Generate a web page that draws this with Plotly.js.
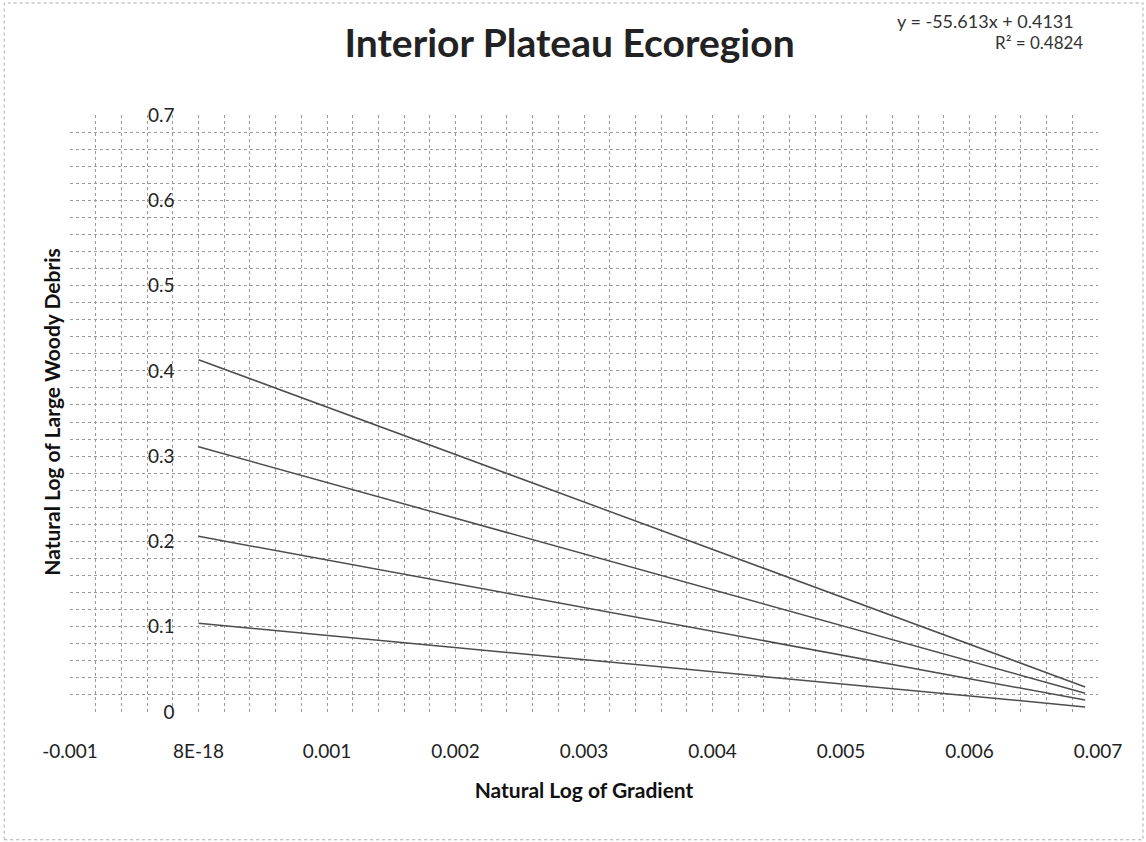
<!DOCTYPE html>
<html>
<head>
<meta charset="utf-8">
<script src="https://cdn.plot.ly/plotly-3.0.1.min.js"></script>
<style>html,body{margin:0;padding:0;background:#fff;}#chart{width:1146px;height:842px;}</style>
</head>
<body>
<div id="chart"></div>
<script>
// Data
const lineX = [0, 0.0069];
const line1Y = [0.4131, 0.0294];
const line2Y = [0.311, 0.022];
const line3Y = [0.206, 0.014];
const line4Y = [0.104, 0.006];
const xTickVals = [-0.001, 0, 0.001, 0.002, 0.003, 0.004, 0.005, 0.006, 0.007];
const xTickText = ["-0.001", "8E-18", "0.001", "0.002", "0.003", "0.004", "0.005", "0.006", "0.007"];
const yTickVals = [0, 0.1, 0.2, 0.3, 0.4, 0.5, 0.6, 0.7];
const yTickText = ["0", "0.1", "0.2", "0.3", "0.4", "0.5", "0.6", "0.7"];
const titleText = "Interior Plateau Ecoregion";
const xTitle = "Natural Log of Gradient";
const yTitle = "Natural Log of Large Woody Debris";
const equationText = "y = -55.613x + 0.4131";
const r2Text = "R² = 0.4824";

const FONT = "Lato, 'Open Sans', sans-serif";
const lineStyle = {color: "#4d4d4d", width: 1.5};
const series = [line1Y, line2Y, line3Y, line4Y];
const traces = series.map(ys => ({
  x: lineX, y: ys, type: "scatter", mode: "lines",
  line: lineStyle, hoverinfo: "skip", showlegend: false
}));

const gridColor = "#9a9a9a";
const layout = {
  width: 1146, height: 842,
  margin: {l: 70, r: 48, t: 115, b: 130},
  paper_bgcolor: "#ffffff", plot_bgcolor: "#ffffff",
  showlegend: false,
  font: {family: FONT, color: "#111"},
  title: {text: "<b>" + titleText + "</b>", font: {family: FONT, size: 39, color: "#222"},
          x: 0.497, xanchor: "center", y: 0.948, yanchor: "middle"},
  xaxis: {
    range: [-0.001, 0.007], tickmode: "array", tickvals: xTickVals, ticktext: xTickText,
    showgrid: true, gridcolor: gridColor, griddash: "dot", gridwidth: 1,
    minor: {dtick: 0.0002, showgrid: true, gridcolor: gridColor, griddash: "dot", gridwidth: 1},
    zeroline: false, showline: false, ticks: "",
    ticklabelstandoff: 26,
    tickfont: {family: FONT, size: 19, color: "#222"},
    title: {text: "<b>" + xTitle + "</b>", font: {family: FONT, size: 21, color: "#111"}, standoff: 22}
  },
  yaxis: {
    range: [0, 0.7], tickmode: "array", tickvals: yTickVals, ticktext: yTickText,
    anchor: "free", position: 0.125,
    showgrid: true, gridcolor: gridColor, griddash: "dot", gridwidth: 1,
    minor: {dtick: 0.02, showgrid: true, gridcolor: gridColor, griddash: "dot", gridwidth: 1},
    zeroline: false, showline: false, ticks: "",
    ticklabelstandoff: 24,
    tickfont: {family: FONT, size: 19, color: "#222"}
  },
  annotations: [
    {text: "<b>" + yTitle + "</b>", textangle: -90, xref: "paper", yref: "paper",
     x: -0.0175, y: 0.503, xanchor: "center", yanchor: "middle", showarrow: false,
     font: {family: FONT, size: 21, color: "#111"}},
    {text: equationText, xref: "paper", yref: "paper", x: 0.891, y: 1.157,
     xanchor: "center", yanchor: "middle", showarrow: false,
     font: {family: FONT, size: 18, color: "#333"}},
    {text: r2Text, xref: "paper", yref: "paper", x: 0.943, y: 1.121,
     xanchor: "center", yanchor: "middle", showarrow: false,
     font: {family: FONT, size: 17, color: "#333"}}
  ],
  shapes: [
    {type: "rect", xref: "paper", yref: "paper", x0: -0.064, x1: 1.0438, y0: -0.214, y1: 1.1876,
     line: {color: "#aaaaaa", width: 1, dash: "dot"}, fillcolor: "rgba(0,0,0,0)", layer: "below"}
  ]
};

Plotly.newPlot("chart", traces, layout, {staticPlot: true, displayModeBar: false});
</script>
</body>
</html>
